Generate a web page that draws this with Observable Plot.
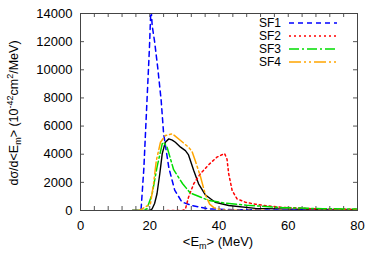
<!DOCTYPE html>
<html>
<head>
<meta charset="utf-8">
<script src="https://cdn.jsdelivr.net/npm/d3@7"></script>
<script src="https://cdn.jsdelivr.net/npm/@observablehq/plot@0.6"></script>
<style>
body { margin: 0; background: #fff; }
#chart svg { font-family: "Liberation Sans", Arial, sans-serif; }
</style>
</head>
<body>
<div id="chart"></div>
<script>
// ---- data ----
const seriesNames = ["SF1", "SF2", "SF3", "SF4"];
const seriesColors = ["#0000ff", "#ff0000", "#00dd00", "#ffa500"];
const seriesDash = ["5,4", "2,3", "10,3,2,3", "12,3,2,3,2,3"];

const exactE = [15, 19.5, 20.2, 20.7, 21.4, 22.1, 22.9, 23.6, 24.5, 25.5, 26.5, 27.4, 28.9, 30.3, 31.2, 32.7, 34.1, 36.1, 38.9, 42.8, 50.5, 60, 70, 80];
const exactV = [0, 0, 30, 120, 500, 1190, 2610, 4030, 4850, 5090, 5000, 4850, 4500, 4260, 3950, 2840, 1900, 1100, 590, 355, 150, 100, 70, 50];

const sf1E = [15, 17, 17.5, 18.3, 19.2, 19.9, 20.35, 20.7, 21.4, 22.3, 23.3, 24.0, 25.5, 27.2, 29.3, 32.2, 37, 44, 60, 80];
const sf1V = [0, 0, 100, 3000, 7800, 11500, 14500, 13150, 12000, 10160, 7818, 5470, 3056, 1450, 600, 355, 120, 50, 40, 30];

const sf2E = [25, 29.5, 30.3, 31.2, 32.7, 34.6, 37.0, 39.4, 41.6, 42.3, 42.8, 43.8, 45.2, 47.6, 50.5, 52.9, 57.7, 67.3, 80];
const sf2V = [0, 0, 100, 945, 1900, 2600, 3250, 3790, 4050, 3670, 2610, 1420, 830, 590, 450, 355, 235, 120, 80];

const sf3E = [15, 18, 19.2, 20.7, 22.1, 23.6, 24.0, 25.0, 26.9, 29.5, 31.7, 33.7, 37, 41.8, 48, 58.6, 70, 80];
const sf3V = [0, 0, 120, 1190, 3080, 4740, 4850, 4500, 2900, 1900, 1250, 1050, 720, 520, 380, 200, 130, 100];

const sf4E = [15, 17, 17.8, 20.2, 21.1, 21.9, 23.1, 24.5, 26.5, 28.9, 31.2, 32.2, 33.2, 34.6, 36.1, 37.3, 38.5, 41, 50, 80];
const sf4V = [0, 0, 120, 470, 1900, 3550, 4850, 5330, 5450, 4975, 4500, 4200, 3500, 2450, 1100, 450, 200, 30, 10, 0];

const xTickLabels = [0, 20, 40, 60, 80];
const xMinorTicks = d3.range(0, 81, 4);
const yTickLabels = [0, 2000, 4000, 6000, 8000, 10000, 12000, 14000];

// ---- build rows ----
const toRows = (E, V, s) => E.map((e, i) => ({E: e, V: V[i], s}));
const exactRows = toRows(exactE, exactV, "exact");
const sfRows = [
  toRows(sf1E, sf1V, "SF1"),
  toRows(sf2E, sf2V, "SF2"),
  toRows(sf3E, sf3V, "SF3"),
  toRows(sf4E, sf4V, "SF4")
];

const xDom = [0, 80], yDom = [0, 14000];
const tickLen = 4;

const plot = Plot.plot({
  width: 380,
  height: 266,
  marginLeft: 80,
  marginRight: 23,
  marginTop: 13,
  marginBottom: 56,
  style: {fontSize: "13px", fontFamily: "Liberation Sans, Arial, sans-serif", color: "#000", background: "#fff"},
  x: {domain: xDom},
  y: {domain: yDom},
  marks: [
    Plot.axisX({ticks: xTickLabels, tickFormat: d3.format("d"), tickSize: 0, tickPadding: 10, label: null, fontSize: 13}),
    Plot.axisY({ticks: yTickLabels, tickFormat: d3.format("d"), tickSize: 0, tickPadding: 8, label: null, fontSize: 13}),
    // inward ticks
    Plot.ruleX(xMinorTicks, {x: d => d, y1: yDom[0], y2: yDom[0], insetTop: -tickLen, stroke: "#555"}),
    Plot.ruleX(xMinorTicks, {x: d => d, y1: yDom[1], y2: yDom[1], insetBottom: -tickLen, stroke: "#555"}),
    Plot.ruleY(yTickLabels, {y: d => d, x1: xDom[0], x2: xDom[0], insetRight: -tickLen, stroke: "#555"}),
    Plot.ruleY(yTickLabels, {y: d => d, x1: xDom[1], x2: xDom[1], insetLeft: -tickLen, stroke: "#555"}),
    Plot.line(exactRows, {x: "E", y: "V", stroke: "#000", strokeWidth: 1.4, clip: true}),
    ...sfRows.map((rows, k) =>
      Plot.line(rows, {x: "E", y: "V", stroke: seriesColors[k], strokeWidth: 1.5, strokeDasharray: seriesDash[k], clip: true})
    ),
    Plot.frame({stroke: "#444", strokeWidth: 1})
  ]
});

const svg = d3.select(plot);

// legend (top right, inside)
const leg = svg.append("g")
  .attr("font-family", "Liberation Sans, Arial, sans-serif")
  .attr("font-size", 12);
seriesNames.forEach((name, k) => {
  const y = 23 + k * 13;
  leg.append("text").attr("x", 281).attr("y", y).attr("dy", "0.35em")
    .attr("text-anchor", "end").attr("fill", "#000").text(name);
  leg.append("line").attr("x1", 289).attr("x2", 337).attr("y1", y).attr("y2", y)
    .attr("stroke", seriesColors[k]).attr("stroke-width", 1.5)
    .attr("stroke-dasharray", seriesDash[k]);
});

// y-axis label
const yl = svg.append("text")
  .attr("transform", "translate(18,113) rotate(-90)")
  .attr("text-anchor", "middle")
  .attr("font-family", "Liberation Sans, Arial, sans-serif")
  .attr("font-size", 12.5)
  .attr("fill", "#000");
yl.append("tspan").text("dσ/d<E");
yl.append("tspan").attr("font-size", 9).attr("dy", 3).text("m");
yl.append("tspan").attr("dy", -3).text("> (10");
yl.append("tspan").attr("font-size", 9).attr("dy", -5).text("-42");
yl.append("tspan").attr("dy", 5).text("cm");
yl.append("tspan").attr("font-size", 9).attr("dy", -5).text("2");
yl.append("tspan").attr("dy", 5).text("/MeV)");

// x-axis label
const xl = svg.append("text")
  .attr("x", 218).attr("y", 246)
  .attr("text-anchor", "middle")
  .attr("font-family", "Liberation Sans, Arial, sans-serif")
  .attr("font-size", 13)
  .attr("fill", "#000");
xl.append("tspan").text("<E");
xl.append("tspan").attr("font-size", 9).attr("dy", 3).text("m");
xl.append("tspan").attr("dy", -3).text("> (MeV)");

document.getElementById("chart").appendChild(plot);
</script>
</body>
</html>
